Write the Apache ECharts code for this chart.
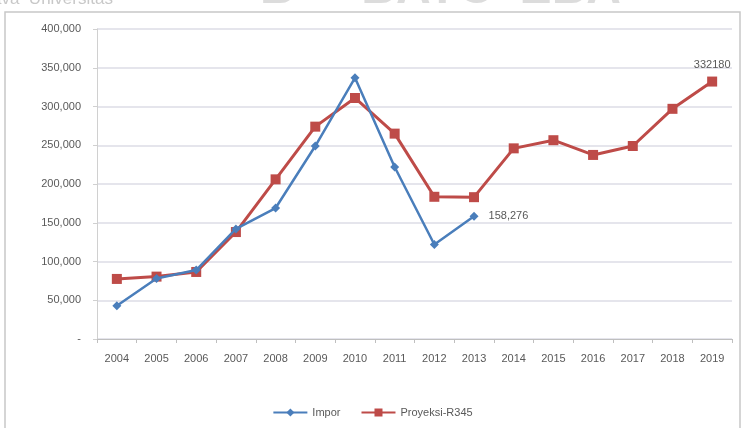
<!DOCTYPE html>
<html>
<head>
<meta charset="utf-8">
<script src="https://cdn.jsdelivr.net/npm/echarts@6/dist/echarts.min.js"></script>
<style>
  html, body { margin: 0; padding: 0; background: #fff; }
  #chart { width: 745px; height: 428px; }
</style>
</head>
<body>
<div id="chart"></div>
<script>
// data
const years = ['2004', '2005', '2006', '2007', '2008', '2009', '2010', '2011',
  '2012', '2013', '2014', '2015', '2016', '2017', '2018', '2019'];
const impor = [43000, 78000, 89000, 142000, 169000, 249000, 337000, 222000,
  122000, 158276, null, null, null, null, null, null];
const proyeksi = [77500, 80500, 86500, 138000, 206000, 274000, 311000, 265000,
  183500, 183000, 246000, 256500, 237500, 249000, 297000, 332180];

const textColor = '#595959';
const font = 'Liberation Sans';

const chart = echarts.init(document.getElementById('chart'));
chart.setOption({
  animation: false,
  textStyle: { fontFamily: font },
  grid: { left: 97, right: 13, top: 29, bottom: 89, containLabel: false },
  graphic: [
    // page border of the scanned figure
    { type: 'rect', shape: { x: 5, y: 12, width: 735, height: 420 },
      style: { fill: 'none', stroke: '#c8c8c8', lineWidth: 1.5 } },
    { type: 'text', left: -8, top: -9,
      style: { text: 'ava  Universitas', fontSize: 17, fill: '#c8c8c8', fontFamily: font } },
    { type: 'text', left: 260, top: -34,
      style: { text: 'B     BAYC  EBA', fontSize: 48, fontWeight: 'bold', fill: '#dcdcdc', fontFamily: font } }
  ],
  legend: {
    bottom: 5,
    left: 'center',
    itemWidth: 34,
    itemHeight: 10,
    itemGap: 20,
    textStyle: { color: textColor, fontSize: 11 },
    data: ['Impor', 'Proyeksi-R345']
  },
  xAxis: {
    type: 'category',
    data: years,
    boundaryGap: true,
    axisLine: { lineStyle: { color: '#bfbfbf' } },
    axisTick: { show: true, length: 4, lineStyle: { color: '#bfbfbf' } },
    axisLabel: { color: textColor, fontSize: 11, margin: 14 }
  },
  yAxis: {
    type: 'value',
    min: 0,
    max: 400000,
    interval: 50000,
    axisLine: { show: true, lineStyle: { color: '#d0d0d0' } },
    axisTick: { show: true, length: 4, lineStyle: { color: '#d0d0d0' } },
    splitLine: { lineStyle: { color: '#dcdce6', width: 1.5 } },
    axisLabel: {
      color: textColor,
      fontSize: 11,
      margin: 16,
      formatter: v => (v === 0 ? '-' : v.toLocaleString('en-US'))
    }
  },
  series: [
    {
      name: 'Proyeksi-R345',
      type: 'line',
      data: proyeksi,
      color: '#be4b48',
      symbol: 'rect',
      symbolSize: 10,
      lineStyle: { width: 3, color: '#be4b48' },
      itemStyle: { color: '#be4b48' },
      label: {
        show: true,
        position: 'top',
        distance: 6,
        color: textColor,
        fontSize: 11,
        formatter: p => (p.dataIndex === proyeksi.length - 1 ? String(p.value) : '')
      },
      z: 2
    },
    {
      name: 'Impor',
      type: 'line',
      data: impor,
      color: '#4a7ebb',
      symbol: 'diamond',
      symbolSize: 9,
      lineStyle: { width: 2.5, color: '#4a7ebb' },
      itemStyle: { color: '#4a7ebb' },
      label: {
        show: true,
        position: 'right',
        distance: 10,
        color: textColor,
        fontSize: 11,
        formatter: p => (p.dataIndex === 9 ? p.value.toLocaleString('en-US') : '')
      },
      z: 3
    }
  ]
});
</script>
</body>
</html>
